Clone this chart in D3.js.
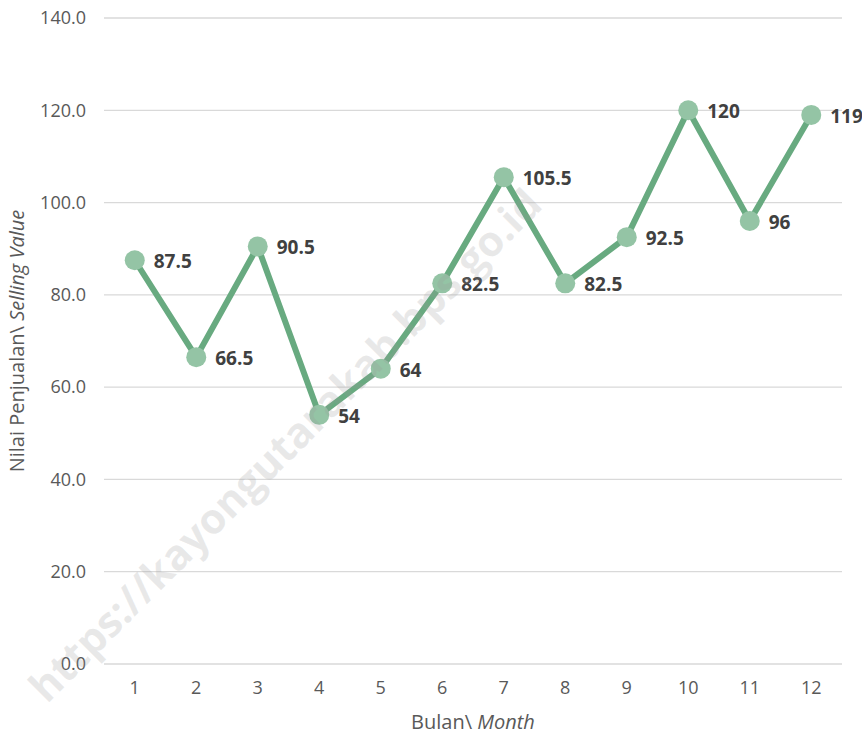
<!DOCTYPE html>
<html>
<head>
<meta charset="utf-8">
<script src="https://cdn.jsdelivr.net/npm/d3@7"></script>
<style>
  html, body { margin: 0; padding: 0; background: #fff; }
  svg { display: block; }
</style>
</head>
<body>
<svg id="chart" width="862" height="738"></svg>
<script>
const months = [1, 2, 3, 4, 5, 6, 7, 8, 9, 10, 11, 12];
const values = [87.5, 66.5, 90.5, 54, 64, 82.5, 105.5, 82.5, 92.5, 120, 96, 119];
const labels = ["87.5", "66.5", "90.5", "54", "64", "82.5", "105.5", "82.5", "92.5", "120", "96", "119"];
const yTicks = [0, 20, 40, 60, 80, 100, 120, 140];

const svg = d3.select("#chart");
const font = "'Open Sans', 'Noto Sans', sans-serif";

const x = d3.scaleBand().domain(months).range([104, 842]);
const y = d3.scaleLinear().domain([0, 140]).range([664, 18]);
const cx = d => x(d) + x.bandwidth() / 2;

// gridlines
svg.append("g").selectAll("line").data(yTicks).join("line")
  .attr("x1", 104).attr("x2", 842)
  .attr("y1", d => y(d)).attr("y2", d => y(d))
  .attr("stroke", "#d9d9d9").attr("stroke-width", 1.3);

// y axis
const yAxis = svg.append("g").attr("transform", "translate(86,0)")
  .call(d3.axisLeft(y).tickValues(yTicks).tickFormat(d3.format(".1f")).tickSize(0).tickPadding(0));
yAxis.select(".domain").remove();
yAxis.selectAll("text").attr("font-family", font).attr("font-size", 18).attr("fill", "#595959");

// x axis
const xAxis = svg.append("g").attr("transform", "translate(0,680)")
  .call(d3.axisBottom(x).tickSize(0).tickPadding(0));
xAxis.select(".domain").remove();
xAxis.selectAll("text").attr("font-family", font).attr("font-size", 18).attr("fill", "#595959")
  .attr("dy", "0.75em");

// axis titles
const yt = svg.append("text")
  .attr("transform", "translate(24,341) rotate(-90)")
  .attr("text-anchor", "middle")
  .attr("font-family", font).attr("font-size", 20).attr("fill", "#595959");
yt.append("tspan").text("Nilai Penjualan\\ ");
yt.append("tspan").attr("font-style", "italic").text("Selling Value");

const xt = svg.append("text")
  .attr("x", 473).attr("y", 729)
  .attr("text-anchor", "middle")
  .attr("font-family", font).attr("font-size", 20).attr("fill", "#595959");
xt.append("tspan").text("Bulan\\ ");
xt.append("tspan").attr("font-style", "italic").text("Month");

// line
const line = d3.line().x((d, i) => cx(months[i])).y(d => y(d));
svg.append("path").datum(values)
  .attr("d", line).attr("fill", "none")
  .attr("stroke", "#68aa80").attr("stroke-width", 6).attr("stroke-linejoin", "round");

// markers
svg.append("g").selectAll("circle").data(values).join("circle")
  .attr("cx", (d, i) => cx(months[i])).attr("cy", d => y(d)).attr("r", 10)
  .attr("fill", "#94c4a5");

// labels
svg.append("g").selectAll("text").data(values).join("text")
  .attr("x", (d, i) => cx(months[i]) + 19).attr("y", d => y(d) + 1)
  .attr("dominant-baseline", "central")
  .attr("font-family", font).attr("font-size", 19).attr("font-weight", "bold")
  .attr("fill", "#404040")
  .text((d, i) => labels[i]);

// watermark
svg.append("text")
  .attr("transform", "translate(284,444) rotate(-45)")
  .attr("text-anchor", "middle").attr("dominant-baseline", "central")
  .attr("font-family", font).attr("font-size", 42).attr("font-weight", "bold")
  .attr("fill", "#9a9a9a").attr("fill-opacity", 0.22)
  .text("https://kayongutarakab.bps.go.id");
</script>
</body>
</html>
